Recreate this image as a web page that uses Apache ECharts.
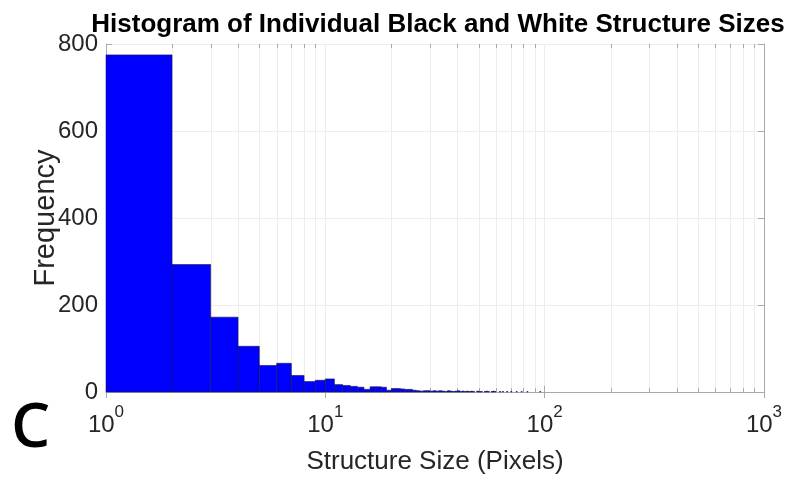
<!DOCTYPE html>
<html>
<head>
<meta charset="utf-8">
<script src="https://cdn.jsdelivr.net/npm/echarts@6/dist/echarts.min.js"></script>
<style>
  html, body { margin: 0; padding: 0; background: #ffffff; }
  #chart { width: 789px; height: 480px; }
</style>
</head>
<body>
<div id="chart"></div>
<script>
// Histogram bins: each bin starts at binStarts[i] and is one pixel wide.
const binStarts = [
  1, 2, 3, 4, 5, 6, 7, 8, 9, 10,
  11, 12, 13, 14, 15, 16, 17, 18, 19, 20,
  21, 22, 23, 24, 25, 26, 27, 28, 29, 30,
  31, 32, 33, 34, 35, 36, 37, 38, 39, 40,
  41, 42, 43, 44, 45, 46, 47, 49, 50, 51,
  53, 54, 55, 57, 58, 59, 62, 64, 67, 70,
  74, 78, 83, 95
];
const binCounts = [
  775, 293, 172, 105, 61, 66, 38, 24, 27, 30,
  17, 15, 13, 11, 6, 12, 12, 11, 4, 8,
  8, 7, 6, 6, 4, 3, 2, 3, 3, 2,
  3, 2, 3, 2, 1, 3, 2, 1, 2, 3,
  1, 2, 1, 2, 1, 2, 1, 2, 1, 1,
  1, 2, 1, 1, 2, 1, 1, 1, 1, 1,
  1, 1, 1, 1
];

// Axis ticks
const yTicks = [0, 200, 400, 600, 800];
const xRange = [1, 1000];
const minorXTicks = [2, 3, 4, 5, 6, 7, 8, 9, 20, 30, 40, 50, 60, 70, 80, 90, 200, 300, 400, 500, 600, 700, 800, 900];

const chart = echarts.init(document.getElementById('chart'), null, { renderer: 'canvas' });

const AXIS_GRAY = '#a9a9a9';
const GRID_GRAY = '#ededed';
const TEXT = '#262626';

const barData = binStarts.map((s, i) => [s, s + 1, binCounts[i]]);
const minorData = minorXTicks.map(v => [v, yTicks[yTicks.length - 1]]);

chart.setOption({
  animation: false,
  backgroundColor: '#ffffff',
  title: {
    text: 'Histogram of Individual Black and White Structure Sizes',
    left: 433,
    textAlign: 'center',
    top: 7,
    textStyle: { fontFamily: 'Liberation Sans', fontWeight: 'bold', fontSize: 26, color: '#000000' }
  },
  graphic: [{
    type: 'text',
    left: 11,
    top: 398,
    style: { text: 'C', font: '600 62px "Open Sans"', fill: '#000000' }
  }],
  grid: { left: 106, right: 25, top: 44, bottom: 87.5, containLabel: false },
  xAxis: [{
    type: 'log',
    logBase: 10,
    min: xRange[0],
    max: xRange[1],
    position: 'bottom',
    name: 'Structure Size (Pixels)',
    nameLocation: 'middle',
    nameGap: 57,
    nameMoveOverlap: false,
    nameTextStyle: { fontFamily: 'Liberation Sans', fontSize: 26, color: TEXT },
    axisLine: { show: true, lineStyle: { color: AXIS_GRAY, width: 1 } },
    axisTick: { show: true, inside: true, length: 6, lineStyle: { color: AXIS_GRAY } },
    splitLine: { show: true, lineStyle: { color: GRID_GRAY, width: 1 } },
    axisLabel: {
      margin: 9,
      formatter: v => '{b|10}{e|' + Math.round(Math.log10(v)) + '}',
      rich: {
        b: { fontFamily: 'Liberation Sans', fontSize: 24, color: TEXT, padding: [12, 0, 0, 0] },
        e: { fontFamily: 'Liberation Sans', fontSize: 17, color: TEXT, padding: [0, 0, 13, 0] }
      }
    }
  }, {
    type: 'log',
    logBase: 10,
    min: xRange[0],
    max: xRange[1],
    position: 'top',
    axisLine: { show: true, lineStyle: { color: AXIS_GRAY, width: 1 } },
    axisTick: { show: true, inside: true, length: 6, lineStyle: { color: AXIS_GRAY } },
    axisLabel: { show: false },
    splitLine: { show: false }
  }],
  yAxis: [{
    type: 'value',
    min: yTicks[0],
    max: yTicks[yTicks.length - 1],
    interval: 200,
    position: 'left',
    name: 'Frequency',
    nameLocation: 'middle',
    nameGap: 46,
    nameMoveOverlap: false,
    nameTextStyle: { fontFamily: 'Liberation Sans', fontSize: 29, color: TEXT },
    axisLine: { show: true, lineStyle: { color: AXIS_GRAY, width: 1 } },
    axisTick: { show: true, inside: true, length: 6, lineStyle: { color: AXIS_GRAY } },
    splitLine: { show: true, lineStyle: { color: GRID_GRAY, width: 1 } },
    axisLabel: { margin: 8, fontFamily: 'Liberation Sans', fontSize: 24, color: TEXT }
  }, {
    type: 'value',
    min: yTicks[0],
    max: yTicks[yTicks.length - 1],
    interval: 200,
    position: 'right',
    axisLine: { show: true, lineStyle: { color: AXIS_GRAY, width: 1 } },
    axisTick: { show: true, inside: true, length: 6, lineStyle: { color: AXIS_GRAY } },
    axisLabel: { show: false },
    splitLine: { show: false }
  }],
  series: [{
    // minor log grid lines and their tick marks on top and bottom edges
    type: 'custom',
    xAxisIndex: 0,
    yAxisIndex: 0,
    z: 1,
    silent: true,
    clip: false,
    encode: { x: 0, y: 1 },
    data: minorData,
    renderItem: (params, api) => {
      const v = api.value(0);
      const top = api.coord([v, api.value(1)]);
      const bot = api.coord([v, 0]);
      const x = Math.round(top[0]) + 0.5;
      return {
        type: 'group',
        children: [
          { type: 'line', shape: { x1: x, y1: top[1], x2: x, y2: bot[1] }, style: { stroke: GRID_GRAY, lineWidth: 1 } },
          { type: 'line', shape: { x1: x, y1: top[1], x2: x, y2: top[1] + 4 }, style: { stroke: AXIS_GRAY, lineWidth: 1 } },
          { type: 'line', shape: { x1: x, y1: bot[1], x2: x, y2: bot[1] - 4 }, style: { stroke: AXIS_GRAY, lineWidth: 1 } }
        ]
      };
    }
  }, {
    // histogram bars spanning [start, start + 1) on the log axis
    type: 'custom',
    xAxisIndex: 0,
    yAxisIndex: 0,
    z: 3,
    encode: { x: [0, 1], y: 2 },
    data: barData,
    renderItem: (params, api) => {
      const p0 = api.coord([api.value(0), api.value(2)]);
      const p1 = api.coord([api.value(1), 0]);
      return {
        type: 'rect',
        shape: { x: p0[0], y: p0[1], width: p1[0] - p0[0], height: p1[1] - p0[1] },
        style: { fill: '#0000ff', stroke: '#17174d', lineWidth: 0.6 }
      };
    }
  }]
});
</script>
</body>
</html>
